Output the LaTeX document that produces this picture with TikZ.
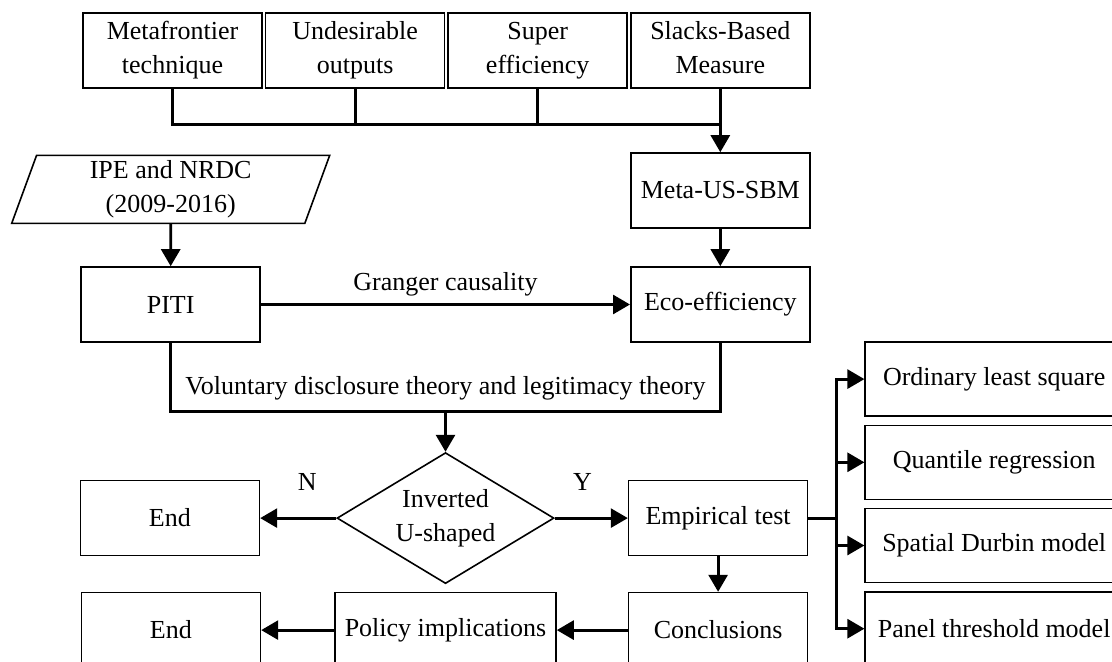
\documentclass[tikz,border=0pt]{standalone}
\usepackage{fontspec}
\setmainfont{Liberation Serif}
\usetikzlibrary{positioning, arrows.meta, shapes.geometric}

\begin{document}
\begin{tikzpicture}[node distance=1pt, every node/.style={align=center, font=\fontsize{13pt}{17pt}\selectfont},
  box/.style={draw, line width=0.8pt, minimum width=89.5pt, minimum height=37.5pt, inner sep=2pt},
  tech/.style={box, text depth=2.8pt},
  data/.style={draw, line width=0.8pt, trapezium, trapezium left angle=68, trapezium right angle=112, trapezium stretches body, minimum width=159pt, minimum height=34pt, inner sep=1pt},
  decision/.style={draw, line width=0.8pt, diamond, aspect=1.66, minimum width=108.5pt, minimum height=65.5pt, inner sep=0pt},
  method/.style={box, minimum width=129pt, minimum height=37pt},
  link/.style={line width=1.4pt, line cap=rect},
  arr/.style={line width=1.4pt, -{Triangle[length=8.5pt, width=9.5pt]}}]

  \useasboundingbox (0,0) rectangle (556pt,-331pt);
  \clip (0,0) rectangle (556pt,-331pt);

  \node[tech] (mft) at (86.25pt,-25.25pt) {Metafrontier\\technique};
  \node[tech, right=of mft] (und) {Undesirable\\outputs};
  \node[tech, right=of und] (sup) {Super\\efficiency};
  \node[tech, right=of sup] (sbm) {Slacks-Based\\Measure};
  \node[box, below=31.7pt of sbm] (meta) {Meta-US-SBM};
  \node[box, below=18.7pt of meta] (eco) {Eco-efficiency};
  \node[box, left=184.5pt of eco] (piti) {PITI};
  \node[data, above=21pt of piti] (ipe) {IPE and NRDC\\(2009-2016)};

  \coordinate[below=18pt of sbm.south] (bus);
  \draw[link] (mft) |- (bus);
  \foreach \n in {und, sup}
    \draw[link] (\n) -- (\n |- bus);
  \draw[arr] (sbm) -- (meta);
  \draw[arr] (meta) -- (eco);
  \draw[arr] (ipe) -- (piti);
  \draw[arr] (piti) -- node[above]{Granger causality} (eco);

  \coordinate[below=34.5pt of piti.south] (vl);
  \draw[link] (piti) -- (vl) -- node[above=2pt]{Voluntary disclosure theory and legitimacy theory} coordinate[midway] (join) (vl -| eco) -- (eco);

  \node[decision, below=20pt of join] (inv) {Inverted\\U-shaped};
  \node[box, left=38pt of inv] (end1) {End};
  \node[box, right=36.5pt of inv] (emp) {Empirical test};
  \node[box, below=17.7pt of emp] (con) {Conclusions};
  \node[box, minimum width=110.5pt, left=35.5pt of con] (pol) {Policy implications};
  \node[box, left=36.5pt of pol] (end2) {End};

  \draw[arr] (join) -- (inv);
  \draw[arr] (inv) -- node[pos=0.38, above=10pt]{N} (end1);
  \draw[arr] (inv) -- node[pos=0.38, above=10pt]{Y} (emp);
  \draw[arr] (emp) -- (con);
  \draw[arr] (con) -- (pol);
  \draw[arr] (pol) -- (end2);

  \node[method, right=28pt of emp, yshift=69.5pt] (ols) {Ordinary least square};
  \node[method, below=3.8pt of ols] (qr) {Quantile regression};
  \node[method, below=3.8pt of qr] (sdm) {Spatial Durbin model};
  \node[method, below=3.8pt of sdm] (ptm) {Panel threshold model};

  \coordinate[right=14pt of emp.east] (fork);
  \draw[link] (emp) -- (fork);
  \draw[link] (fork |- ols) -- (fork |- ptm);
  \foreach \m in {ols, qr, sdm, ptm}
    \draw[arr] (fork |- \m) -- (\m);
\end{tikzpicture}
\end{document}
